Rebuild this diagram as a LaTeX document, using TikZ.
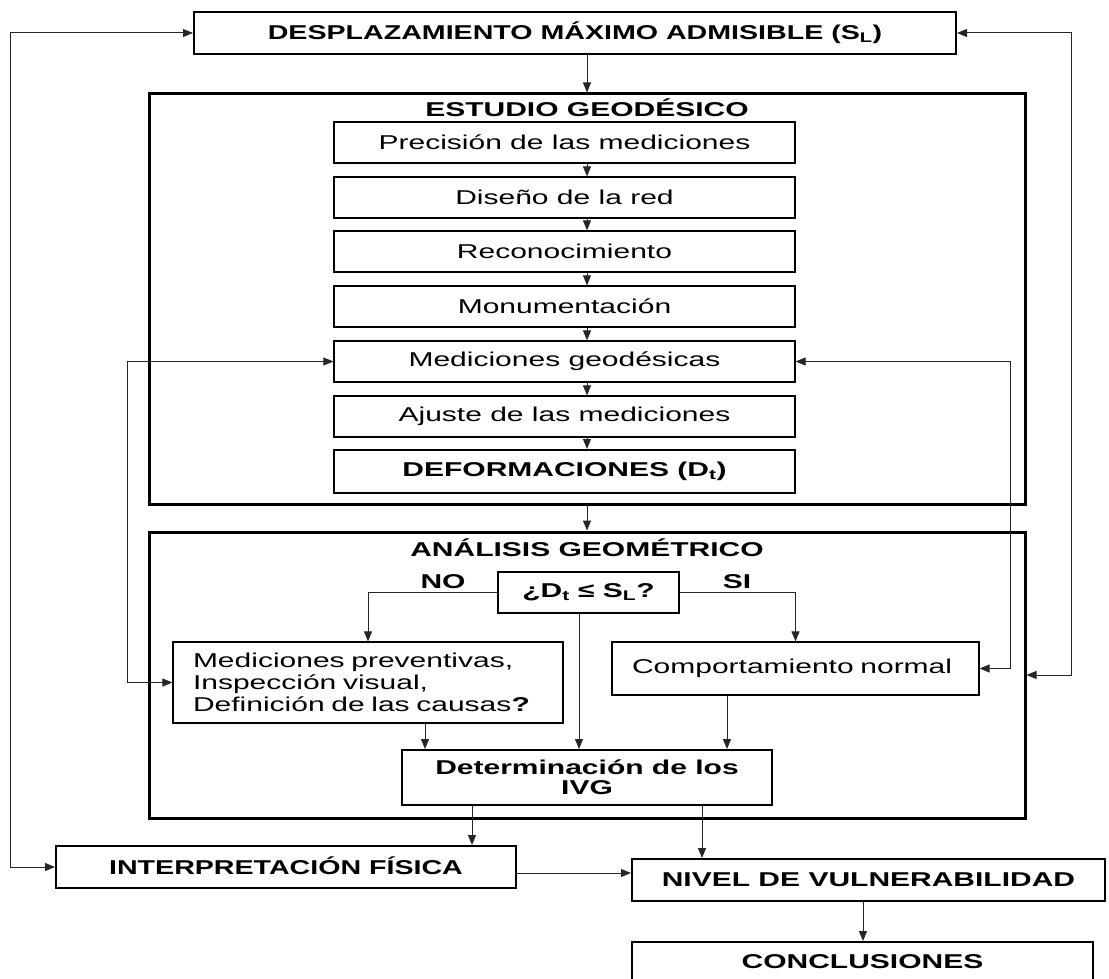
\documentclass[tikz,border=0pt]{standalone}
\usepackage{fontspec}
\setmainfont{Liberation Sans}[FakeStretch=1.5]
\newfontfamily\narrowsans{Liberation Sans}[FakeStretch=1.43]
\usetikzlibrary{arrows.meta}
\begin{document}
\begin{tikzpicture}[x=1pt,y=-1pt,
  every node/.style={font=\fontsize{20pt}{22pt}\selectfont, inner sep=0pt},
  box/.style={draw=black, line width=1.2pt, fill=white},
  mbox/.style={draw=black, line width=2pt, fill=white},
  bigbox/.style={draw=black, line width=3pt},
  arr/.style={draw=black!85, line width=1pt, -{Triangle[length=10pt,width=8pt]}},
  dbl/.style={draw=black!85, line width=1pt, {Triangle[length=10pt,width=8pt]}-{Triangle[length=10pt,width=8pt]}},
  ttl/.style={font=\fontsize{20pt}{22pt}\selectfont\bfseries},
  nttl/.style={font=\fontsize{20pt}{22pt}\selectfont\narrowsans\bfseries}
]
\clip (0,0) rectangle (1109,979);
\fill[white] (0,0) rectangle (1109,979);

% column coordinates
\coordinate (cx) at (587,0);
\coordinate (cd) at (579,0);
\coordinate (R) at (1071,33);
\coordinate (L) at (10,33);
\coordinate (ML) at (127,0);
\coordinate (MR) at (1010,0);
\coordinate (iy) at (0,873);

% top box
\node[mbox, nttl, minimum width=762pt, minimum height=42pt] (top) at (575,33) {DESPLAZAMIENTO MÁXIMO ADMISIBLE (S\textsubscript{L})};

% big frames
\node[bigbox, minimum width=876pt, minimum height=410pt] (estudio) at (587,299) {};
\node[bigbox, minimum width=876pt, minimum height=286pt] (analisis) at (587,675) {};
\node[ttl] (estT) at (587,108) {ESTUDIO GEODÉSICO};
\node[ttl] (anaT) at (587,548) {ANÁLISIS GEOMÉTRICO};

% geodetic steps
\node[box, minimum width=461pt, minimum height=41pt] (b1) at (564.5,142.5) {Precisión de las mediciones};
\node[box, minimum width=461pt, minimum height=41pt] (b2) at (564.5,197.5) {Diseño de la red};
\node[box, minimum width=461pt, minimum height=41pt] (b3) at (564.5,251.5) {Reconocimiento};
\node[box, minimum width=461pt, minimum height=41pt] (b4) at (564.5,306.5) {Monumentación};
\node[box, minimum width=461pt, minimum height=41pt] (mg) at (564.5,361.5) {Mediciones geodésicas};
\node[box, minimum width=461pt, minimum height=41pt] (b6) at (564.5,416.5) {Ajuste de las mediciones};
\node[mbox, ttl, minimum width=461pt, minimum height=43pt] (def) at (564.5,471.5) {DEFORMACIONES (D\textsubscript{t})};

% analysis
\node[mbox, ttl, minimum width=181pt, minimum height=41pt] (dec) at (588.5,592.5) {¿D\textsubscript{t} ≤ S\textsubscript{L}?};
\node[ttl] (no) at (443,582) {NO};
\node[ttl] (si) at (737,582) {SI};
\node[box, minimum width=390pt, minimum height=81pt, text width=350pt, inner xsep=20pt, align=left] (prev) at (368,682.5) {Mediciones preventivas,\\Inspección visual,\\Definición de las causas{\bfseries ?}};
\node[box, minimum width=367pt, minimum height=53pt, text width=327pt, inner xsep=20pt, inner ysep=0pt, align=left] (comp) at (795.5,668.5) {\raisebox{5pt}{Comportamiento normal}};
\node[mbox, minimum width=370pt, minimum height=55pt, align=center, font=\fontsize{20pt}{20pt}\selectfont\bfseries] (det) at (587,777.5) {Determinación de los\\IVG};

% bottom
\node[mbox, nttl, minimum width=460pt, minimum height=42pt] (interp) at (286,867) {\raisebox{3pt}{INTERPRETACIÓN FÍSICA}};
\node[mbox, ttl, minimum width=473pt, minimum height=42pt] (nivel) at (868.5,880) {NIVEL DE VULNERABILIDAD};
\node[mbox, ttl, minimum width=461pt, minimum height=40pt] (concl) at (862.5,962) {CONCLUSIONES};

% connectors
\draw[arr] (top.south -| cx) -- (estudio.north -| cx);
\draw[arr] (b1.south -| cx) -- (b2.north -| cx);
\draw[arr] (b2.south -| cx) -- (b3.north -| cx);
\draw[arr] (b3.south -| cx) -- (b4.north -| cx);
\draw[arr] (b4.south -| cx) -- (mg.north -| cx);
\draw[arr] (mg.south -| cx) -- (b6.north -| cx);
\draw[arr] (b6.south -| cx) -- (def.north -| cx);
\draw[arr] (estudio.south -| cx) -- (analisis.north -| cx);

\draw[dbl] (top.west) -- (L) |- (interp.west);
\draw[dbl] (top.east) -- (R) |- (analisis.east);
\draw[dbl] (mg.west) -- (ML |- mg.west) |- (prev.west);
\draw[dbl] (mg.east) -- (MR |- mg.east) |- (comp.east);

\draw[arr] (dec.west) -| (prev.north);
\draw[arr] (dec.east) -| (comp.north);
\draw[arr] (dec.south -| cd) -- (det.north -| cd);
\draw[arr] (prev.south -| {(425,0)}) -- (det.north -| {(425,0)});
\draw[arr] (comp.south -| {(727,0)}) -- (det.north -| {(727,0)});
\draw[arr] (det.south -| {(472,0)}) -- (interp.north -| {(472,0)});
\draw[arr] (det.south -| {(702,0)}) -- (nivel.north -| {(702,0)});
\draw[arr] (interp.east |- iy) -- (nivel.west |- iy);
\draw[arr] (nivel.south -| {(863,0)}) -- (concl.north -| {(863,0)});
\end{tikzpicture}
\end{document}
